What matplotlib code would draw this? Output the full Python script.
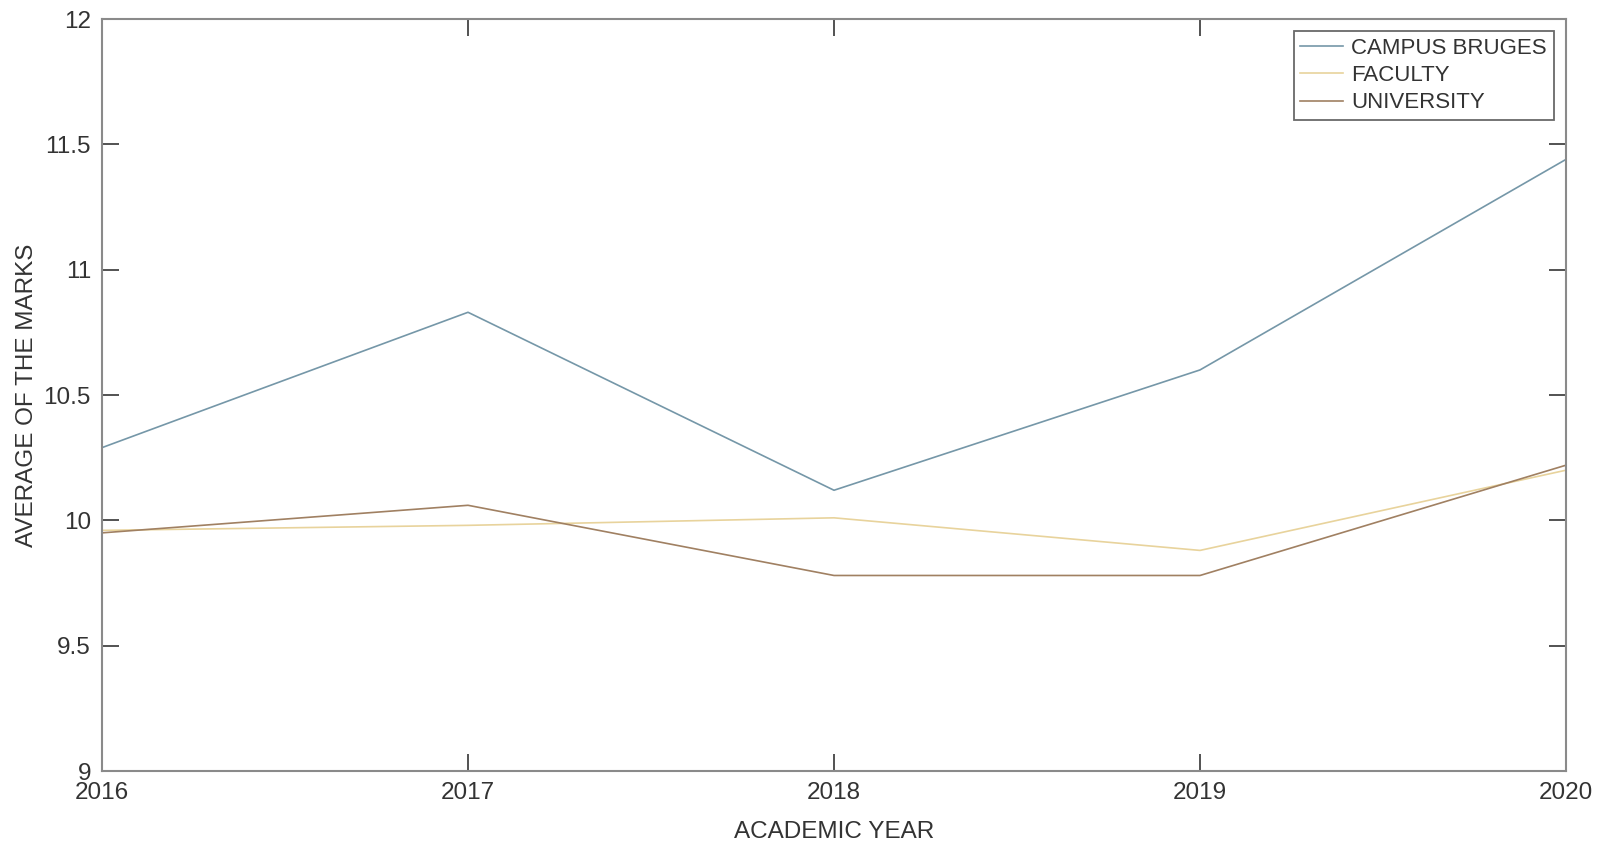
import matplotlib.pyplot as plt

plt.rcParams['font.family'] = ['Liberation Sans', 'DejaVu Sans']

years = [2016, 2017, 2018, 2019, 2020]
campus_bruges = [10.29, 10.83, 10.12, 10.60, 11.44]
faculty = [9.96, 9.98, 10.01, 9.88, 10.20]
university = [9.95, 10.06, 9.78, 9.78, 10.22]

axis_grey = '#8a8a8a'

fig = plt.figure(figsize=(16.08, 8.44), dpi=100)
ax = fig.add_axes([102 / 1608, 1 - 771 / 844, (1566 - 102) / 1608, (771 - 19) / 844])

ax.plot(years, campus_bruges, color='#7597a8', lw=1.2, label='CAMPUS BRUGES')
ax.plot(years, faculty, color='#e8d39c', lw=1.2, label='FACULTY')
ax.plot(years, university, color='#a08062', lw=1.2, label='UNIVERSITY')

ax.set_xlim(2016, 2020)
ax.set_ylim(9, 12)
ax.set_xticks(years)
ax.set_yticks([9, 9.5, 10, 10.5, 11, 11.5, 12])
ax.set_yticklabels(['9', '9.5', '10', '10.5', '11', '11.5', '12'])

# matlab-style box: inward ticks on all four sides
ax.tick_params(direction='in', length=12, width=1.3, color='#444444',
               top=True, right=True, labelsize=17.5, labelcolor='#333333', pad=8)
for spine in ax.spines.values():
    spine.set_color(axis_grey)
    spine.set_linewidth(1.5)

ax.set_xlabel('ACADEMIC YEAR', fontsize=17.5, color='#333333', labelpad=12)
ax.set_ylabel('AVERAGE OF THE MARKS', fontsize=17.5, color='#333333', labelpad=4)

leg = ax.legend(loc='upper right', fontsize=16, frameon=True, fancybox=False,
                borderaxespad=0.55, handlelength=1.9, handletextpad=0.4,
                labelspacing=0.28, borderpad=0.3)
leg.get_frame().set_edgecolor('#444444')
leg.get_frame().set_linewidth(1.3)
for t in leg.get_texts():
    t.set_color('#333333')

fig.savefig('out.png', dpi=100)
